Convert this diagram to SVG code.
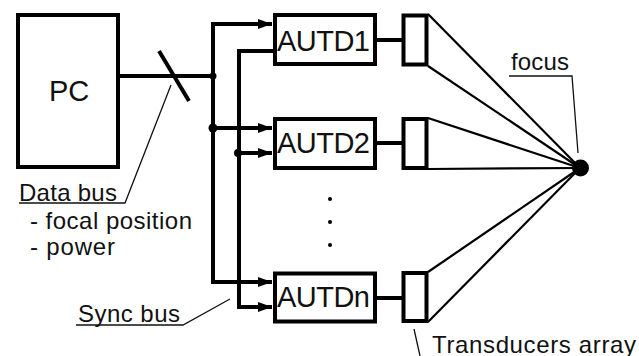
<svg xmlns="http://www.w3.org/2000/svg" width="639" height="356" viewBox="0 0 639 356">
  <style>
    .box { fill: #fff; stroke: #000; stroke-width: 4; }
    .bus { fill: none; stroke: #000; stroke-width: 4; }
    .thin { fill: none; stroke: #000; stroke-width: 2.2; }
    .leader { fill: none; stroke: #111; stroke-width: 1.3; }
    .big { font-family: "Liberation Sans", Arial, sans-serif; font-size: 29px; fill: #111; }
    .lbl { font-family: "Liberation Sans", Arial, sans-serif; font-size: 24px; fill: #111; }
  </style>
  <defs>
    <marker id="arrow" markerWidth="14" markerHeight="10" refX="14" refY="5" orient="auto" markerUnits="userSpaceOnUse">
      <path d="M0,0 L14,5 L0,10 Z" fill="#000"/>
    </marker>
  </defs>

  <rect width="639" height="356" fill="#fff"/>

  <!-- connectors -->
  <g id="connectors">
    <!-- PC to data bus, with bus slash -->
    <line class="bus" x1="120" y1="76" x2="213" y2="76"/>
    <line class="bus" x1="159" y1="51" x2="189" y2="101"/>
    <!-- data bus trunk -->
    <path class="bus" d="M213 24 V282" />
    <path class="bus" d="M211 24 H272" marker-end="url(#arrow)"/>
    <path class="bus" d="M213 128 H272" marker-end="url(#arrow)"/>
    <path class="bus" d="M211 282 H272" marker-end="url(#arrow)"/>
    <circle cx="213" cy="76" r="3.5" fill="#000"/>
    <circle cx="213" cy="128" r="4.5" fill="#000"/>
    <!-- sync bus -->
    <path class="bus" d="M274 51 H239 V307" />
    <path class="bus" d="M239 153 H272" marker-end="url(#arrow)"/>
    <path class="bus" d="M237 307 H272" marker-end="url(#arrow)"/>
    <circle cx="238" cy="153" r="4" fill="#000"/>
    <!-- AUTD to transducer -->
    <line class="bus" x1="376" y1="40" x2="403" y2="40"/>
    <line class="bus" x1="376" y1="143" x2="403" y2="143"/>
    <line class="bus" x1="376" y1="298" x2="403" y2="298"/>
    <!-- transducers to focus -->
    <line class="thin" x1="428" y1="14" x2="580" y2="168"/>
    <line class="thin" x1="428" y1="66" x2="580" y2="168"/>
    <line class="thin" x1="428" y1="118" x2="580" y2="168"/>
    <line class="thin" x1="428" y1="169" x2="580" y2="168"/>
    <line class="thin" x1="428" y1="272" x2="580" y2="168"/>
    <line class="thin" x1="428" y1="322" x2="580" y2="168"/>
    <!-- label leaders -->
    <polyline class="leader" points="19,203 125,203 171,85"/>
    <polyline class="leader" points="76,325 183,325 230,299"/>
    <polyline class="leader" points="509,76 572,76 578,153"/>
    <line class="leader" x1="414" y1="329" x2="420" y2="356"/>
  </g>

  <g id="pc">
    <rect class="box" x="18" y="15" width="100" height="152"/>
    <text class="big" x="49" y="101">PC</text>
  </g>

  <g id="autd1">
    <rect class="box" x="275" y="15" width="100" height="49"/>
    <text class="big" x="277" y="50.5" textLength="93">AUTD1</text>
  </g>
  <g id="autd2">
    <rect class="box" x="275" y="119" width="100" height="49"/>
    <text class="big" x="277" y="152.5" textLength="93">AUTD2</text>
  </g>
  <g id="autdn">
    <rect class="box" x="275" y="273.5" width="100" height="48"/>
    <text class="big" x="277" y="307" textLength="93">AUTDn</text>
  </g>

  <g id="ellipsis">
    <circle cx="330" cy="199" r="2" fill="#000"/>
    <circle cx="330" cy="222" r="2" fill="#000"/>
    <circle cx="330" cy="245" r="2" fill="#000"/>
  </g>

  <g id="transducer1">
    <rect class="box" x="403.5" y="15.5" width="23" height="49"/>
  </g>
  <g id="transducer2">
    <rect class="box" x="403.5" y="119" width="23" height="49"/>
  </g>
  <g id="transducern">
    <rect class="box" x="403.5" y="273" width="23" height="48"/>
  </g>

  <g id="focus">
    <circle cx="580.5" cy="168" r="8.5" fill="#000"/>
    <text class="lbl" x="511" y="70" textLength="58">focus</text>
  </g>

  <g id="labels">
    <text class="lbl" x="19" y="200.5" textLength="98">Data bus</text>
    <text class="lbl" x="30" y="228.5" textLength="162">- focal position</text>
    <text class="lbl" x="30" y="255" textLength="85">- power</text>
    <text class="lbl" x="78" y="322" textLength="102">Sync bus</text>
    <text class="lbl" x="432" y="352.5" textLength="204">Transducers array</text>
  </g>
</svg>
